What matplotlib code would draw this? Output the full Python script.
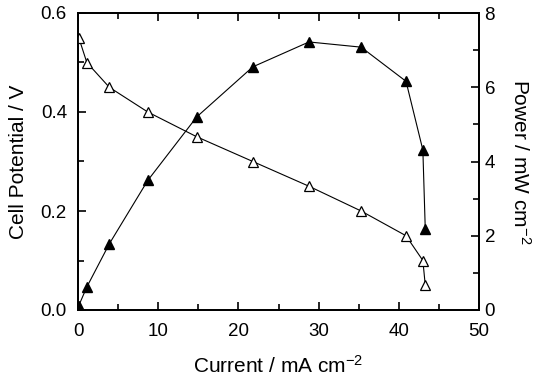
import matplotlib
matplotlib.use("Agg")
import matplotlib.pyplot as plt
from matplotlib.ticker import MultipleLocator

plt.rcParams['font.family'] = ['Liberation Sans', 'DejaVu Sans']
plt.rcParams['mathtext.default'] = 'regular'

current = [0.1, 1.1, 3.9, 8.7, 14.8, 21.8, 28.8, 35.3, 40.9, 43.0, 43.3]
potential = [0.55, 0.50, 0.45, 0.40, 0.35, 0.30, 0.25, 0.20, 0.15, 0.10, 0.05]
power = [0.12, 0.62, 1.78, 3.49, 5.2, 6.55, 7.22, 7.08, 6.16, 4.31, 2.18]

fig = plt.figure(figsize=(5.38, 3.78), dpi=100)
ax = fig.add_axes([78/538, 1-310/378, (479-78)/538, (310-13)/378])
ax2 = ax.twinx()

ax.plot(current, potential, color='black', lw=0.8, marker='^', ms=7.5,
        mfc='white', mec='black', mew=0.9, zorder=3)
ax2.plot(current, power, color='black', lw=0.8, marker='^', ms=7.5,
         mfc='black', mec='black', zorder=3)

ax.set_xlim(0, 50)
ax.set_ylim(0, 0.6)
ax2.set_ylim(0, 8)
ax.xaxis.set_major_locator(MultipleLocator(10))
ax.xaxis.set_minor_locator(MultipleLocator(5))
ax.yaxis.set_major_locator(MultipleLocator(0.2))
ax.yaxis.set_minor_locator(MultipleLocator(0.1))
ax.yaxis.set_major_formatter(plt.FuncFormatter(lambda v, p: f"{v:.1f}"))
ax2.yaxis.set_major_locator(MultipleLocator(2))
ax2.yaxis.set_minor_locator(MultipleLocator(1))

for a in (ax, ax2):
    for s in a.spines.values():
        s.set_linewidth(1.3)
ax.tick_params(which='both', direction='in', top=True, right=False, labelsize=13.5, width=1.2)
ax.tick_params(which='major', length=6)
ax.tick_params(which='minor', length=4)
ax.tick_params(axis='x', pad=9)
ax.tick_params(axis='y', pad=8)
ax2.tick_params(which='both', direction='in', labelsize=13.5, width=1.2, pad=4)
ax2.tick_params(which='major', length=6)
ax2.tick_params(which='minor', length=4)

ax.set_xlabel('Current / mA cm$^{-2}$', fontsize=15, labelpad=11)
ax.set_ylabel('Cell Potential / V', fontsize=15, labelpad=9)
ax2.set_ylabel('Power / mW cm$^{-2}$', fontsize=15, rotation=270, labelpad=26)

fig.savefig('out.png', dpi=100)
